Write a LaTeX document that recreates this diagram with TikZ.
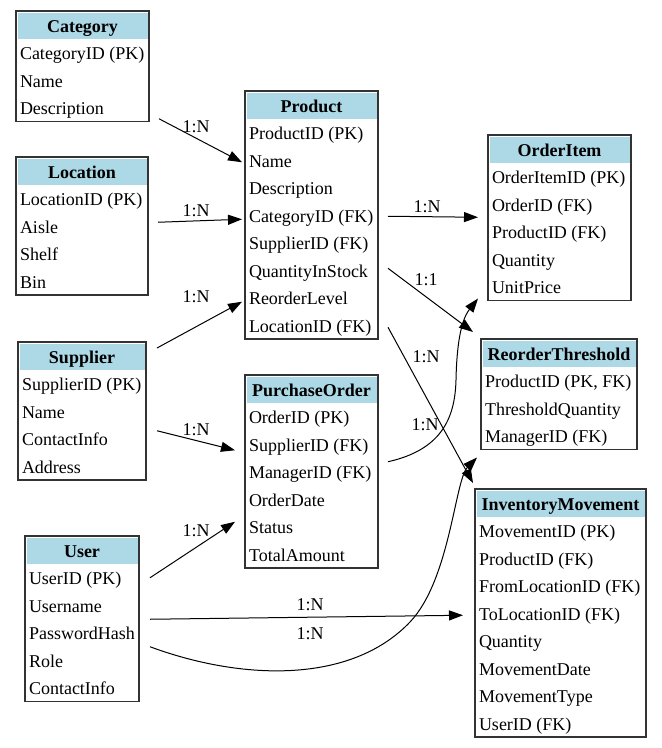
\documentclass[tikz,border=0pt]{standalone}
\usepackage{fontspec}
\setmainfont{LiberationSerif}[Extension=.ttf,UprightFont=*-Regular,BoldFont=*-Bold,ItalicFont=*-Italic]
\usetikzlibrary{arrows.meta}
\definecolor{hdblue}{HTML}{ADD8E6}

\begin{document}
\begin{tikzpicture}[x=1pt,y=-1pt,
  every node/.style={font=\fontsize{18}{21}\selectfont},
  tbl/.style={draw=black!80,line width=1.2pt,anchor=north west,inner sep=0pt,outer sep=0pt},
  head/.style={fill=hdblue,anchor=north,inner sep=0pt,minimum height=26,text height=18pt,text depth=4pt,font=\fontsize{18}{21}\selectfont\bfseries},
  row/.style={anchor=west,inner ysep=0pt,inner xsep=4pt,outer sep=0pt,text height=18pt,text depth=4pt},
  rel/.style={line width=1pt,-{Triangle[length=14pt,width=10pt]}},
  lbl/.style={inner sep=1pt}]
\def\rh{27.5}
\useasboundingbox (0,0) rectangle (662,748);

% left column
\node[tbl,minimum width=133,minimum height=110.5] (Cat) at (16,11) {};
\node[head,minimum width=130] (CatH) at ([yshift=-1.5pt]Cat.north) {Category};
\foreach \t [count=\i, evaluate=\i as \yy using 28+(\i-0.5)*\rh] in {CategoryID (PK),Name,Description}
  \node[row] (Cat\i) at ([shift={(0,\yy)}]Cat.north west) {\makebox[125pt][l]{\t}};

\node[tbl,minimum width=132,minimum height=138] (Loc) at (16,157) {};
\node[head,minimum width=129] (LocH) at ([yshift=-1.5pt]Loc.north) {Location};
\foreach \t [count=\i, evaluate=\i as \yy using 28+(\i-0.5)*\rh] in {LocationID (PK),Aisle,Shelf,Bin}
  \node[row] (Loc\i) at ([shift={(0,\yy)}]Loc.north west) {\makebox[124pt][l]{\t}};

\node[tbl,minimum width=128,minimum height=138] (Sup) at (18,342) {};
\node[head,minimum width=125] (SupH) at ([yshift=-1.5pt]Sup.north) {Supplier};
\foreach \t [count=\i, evaluate=\i as \yy using 28+(\i-0.5)*\rh] in {SupplierID (PK),Name,ContactInfo,Address}
  \node[row] (Sup\i) at ([shift={(0,\yy)}]Sup.north west) {\makebox[120pt][l]{\t}};

\node[tbl,minimum width=114,minimum height=165.5] (Usr) at (25,536) {};
\node[head,minimum width=111] (UsrH) at ([yshift=-1.5pt]Usr.north) {User};
\foreach \t [count=\i, evaluate=\i as \yy using 28+(\i-0.5)*\rh] in {UserID (PK),Username,PasswordHash,Role,ContactInfo}
  \node[row] (Usr\i) at ([shift={(0,\yy)}]Usr.north west) {\makebox[106pt][l]{\t}};

% middle column
\node[tbl,minimum width=133,minimum height=248] (Prd) at (245,91) {};
\node[head,minimum width=130] (PrdH) at ([yshift=-1.5pt]Prd.north) {Product};
\foreach \t [count=\i, evaluate=\i as \yy using 28+(\i-0.5)*\rh] in {ProductID (PK),Name,Description,CategoryID (FK),SupplierID (FK),QuantityInStock,ReorderLevel,LocationID (FK)}
  \node[row] (Prd\i) at ([shift={(0,\yy)}]Prd.north west) {\makebox[125pt][l]{\t}};

\node[tbl,minimum width=133,minimum height=193] (PO) at (245,375) {};
\node[head,minimum width=130] (POH) at ([yshift=-1.5pt]PO.north) {PurchaseOrder};
\foreach \t [count=\i, evaluate=\i as \yy using 28+(\i-0.5)*\rh] in {OrderID (PK),SupplierID (FK),ManagerID (FK),OrderDate,Status,TotalAmount}
  \node[row] (PO\i) at ([shift={(0,\yy)}]PO.north west) {\makebox[125pt][l]{\t}};

% right column
\node[tbl,minimum width=143,minimum height=165.5] (OI) at (488,135) {};
\node[head,minimum width=140] (OIH) at ([yshift=-1.5pt]OI.north) {OrderItem};
\foreach \t [count=\i, evaluate=\i as \yy using 28+(\i-0.5)*\rh] in {OrderItemID (PK),OrderID (FK),ProductID (FK),Quantity,UnitPrice}
  \node[row] (OI\i) at ([shift={(0,\yy)}]OI.north west) {\makebox[135pt][l]{\t}};

\node[tbl,minimum width=156,minimum height=110.5] (RT) at (481,339) {};
\node[head,minimum width=153] (RTH) at ([yshift=-1.5pt]RT.north) {ReorderThreshold};
\foreach \t [count=\i, evaluate=\i as \yy using 28+(\i-0.5)*\rh] in {{ProductID (PK, FK)},ThresholdQuantity,ManagerID (FK)}
  \node[row] (RT\i) at ([shift={(0,\yy)}]RT.north west) {\makebox[148pt][l]{\t}};

\node[tbl,minimum width=171,minimum height=248] (IM) at (475,489) {};
\node[head,minimum width=168] (IMH) at ([yshift=-1.5pt]IM.north) {InventoryMovement};
\foreach \t [count=\i, evaluate=\i as \yy using 28+(\i-0.5)*\rh] in {MovementID (PK),ProductID (FK),FromLocationID (FK),ToLocationID (FK),Quantity,MovementDate,MovementType,UserID (FK)}
  \node[row] (IM\i) at ([shift={(0,\yy)}]IM.north west) {\makebox[163pt][l]{\t}};

% relations
\draw[rel] ([shift={(10,11)}]Cat3.east) -- ([shift={(-3,2)}]Prd2.west);
\draw[rel] ([shift={(10,-4)}]Loc2.east) -- ([shift={(-3,4)}]Prd4.west);
\draw[rel] ([shift={(11,6)}]Sup.north east) -- ([shift={(-3,4)}]Prd7.west);
\draw[rel] ([shift={(11,-8)}]Sup3.east) -- ([shift={(-10,6)}]PO2.west);
\draw[rel] ([shift={(11,0)}]Usr1.east) -- ([shift={(-10,-5)}]PO5.west);
\draw[rel] ([shift={(11,14)}]Usr2.east) -- ([shift={(-12,2)}]IM4.west);
\draw[rel] ([shift={(11,14)}]Usr3.east) .. controls (240,680) and (350,685) .. (410,622)
  .. controls (450,580) and (455,480) .. ([shift={(-4,8)}]RT.south west);
\draw[rel] ([shift={(10,1)}]Prd4.east) -- ([shift={(-10,13)}]OI2.west);
\draw[rel] ([shift={(10,-2)}]Prd6.east) -- ([shift={(-8,-7)}]RT.north west);
\draw[rel] ([shift={(10,2)}]Prd8.east) -- ([shift={(-2,-6)}]IM.north west);
\draw[rel] ([shift={(10,-10)}]PO3.east) .. controls (440,450) and (455,420) .. (456,380)
  .. controls (457,330) and (465,315) .. ([shift={(-10,-2)}]OI.south west);

\node[lbl] (l1) at (196,127) {1:N};
\node[lbl] (l2) at (196,211) {1:N};
\node[lbl] (l3) at (196,297) {1:N};
\node[lbl] (l4) at (196,430) {1:N};
\node[lbl] (l5) at (196,531) {1:N};
\node[lbl] (l6) at (310,605) {1:N};
\node[lbl] (l7) at (310,634) {1:N};
\node[lbl] (l8) at (427,207) {1:N};
\node[lbl] (l9) at (426,280) {1:1};
\node[lbl] (l10) at (426,357) {1:N};
\node[lbl] (l11) at (425,425) {1:N};
\end{tikzpicture}
\end{document}
